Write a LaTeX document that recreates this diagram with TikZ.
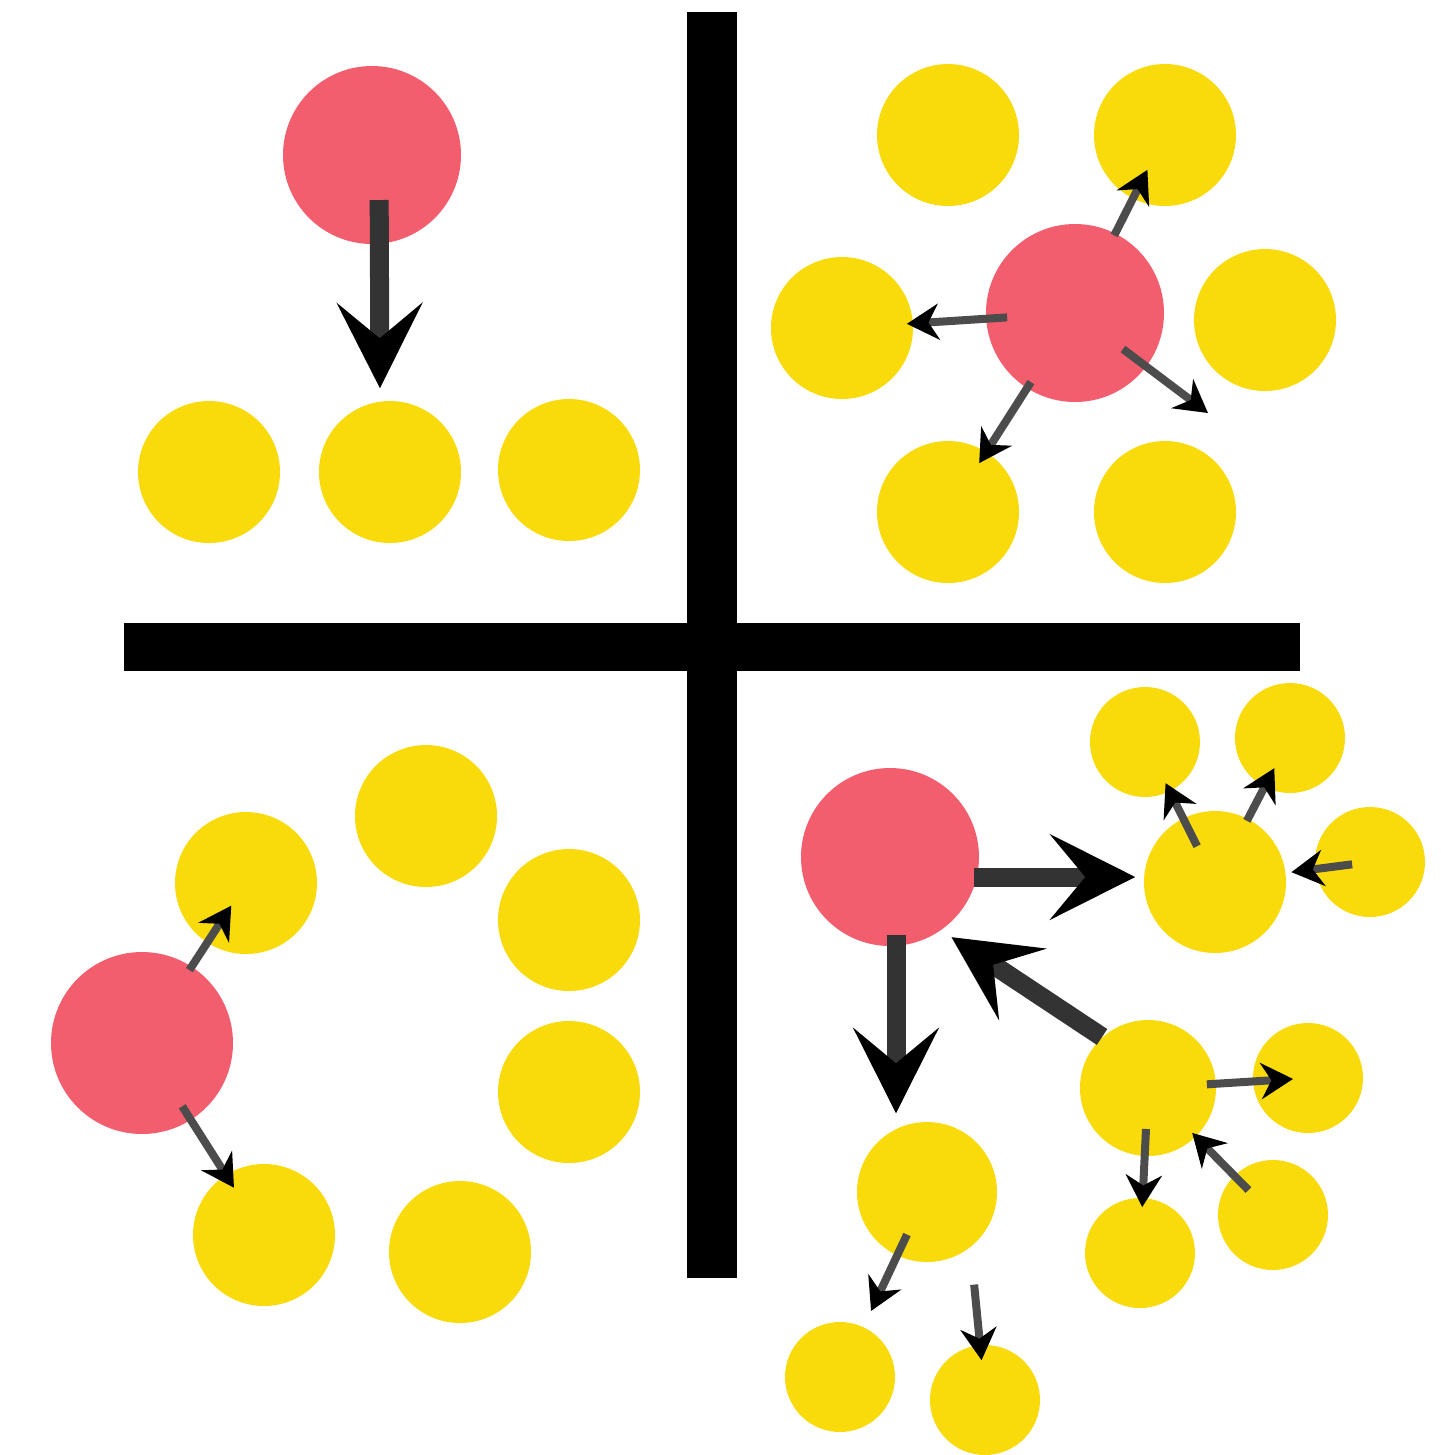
\documentclass[tikz,border=0pt]{standalone}
\usepackage{tikz}
\usetikzlibrary{arrows.meta,positioning}
\definecolor{Coral}{HTML}{F35E6E}
\definecolor{Sun}{HTML}{F9DA0B}
\tikzset{
  hub/.style={circle,fill=Coral,draw=none,minimum size=17.8mm,inner sep=0pt},
  ball/.style={circle,fill=Sun,draw=none,minimum size=14.2mm,inner sep=0pt},
  pebble/.style={ball,minimum size=11mm},
  bar/.style={line width=5mm,draw=black},
  nudge/.style={-{Stealth[length=3.2mm,width=3.6mm,color=black]},line width=.8mm,draw=black!70},
  push/.style={-{Stealth[length=8.5mm,width=8.5mm,inset=3.5mm,color=black]},line width=1.9mm,draw=black!80}
}
\begin{document}
\begin{tikzpicture}[x=0.1mm,y=-0.1mm]
  \useasboundingbox (0,0) rectangle (1441,1455);
  % cross
  \coordinate (vt) at (712,12); \coordinate (vb) at (712,1278);
  \coordinate (hl) at (124,647); \coordinate (hr) at (1300,647);
  \draw[bar] (vt)--(vb);
  \draw[bar,line width=4.8mm] (hl)--(hr);

  % top left
  \node[hub] (tlR) at (372,155) {};
  \node[ball] (tlA) at (209,472) {}; \node[ball] (tlB) at (390,472) {};
  \node[ball] (tlC) at (569,470) {};
  \draw[push,shorten <=4.5mm,shorten >=1.2mm] ([xshift=0.7mm]tlR.center)--([xshift=-1mm]tlB.north);

  % top right
  \node[hub] (trR) at (1075,313) {};
  \node[ball] (trA) at (948,135) {}; \node[ball] (trB) at (1165,135) {};
  \node[ball] (trC) at (842,328) {}; \node[ball] (trD) at (1265,320) {};
  \node[ball] (trE) at (948,512) {}; \node[ball] (trF) at (1165,512) {};
  \coordinate (trX) at (1208,413);
  \draw[nudge,shorten <=8.7mm,shorten >=3.9mm] (trR.center)--(trB.center);
  \draw[nudge,shorten <=6.8mm,shorten >=6.5mm] (trR.center)--(trC.center);
  \draw[nudge,shorten <=8.2mm,shorten >=5.8mm] (trR.center)--(trE.center);
  \draw[nudge,shorten <=6mm] (trR.center)--(trX);

  % bottom left
  \node[hub,minimum size=18.2mm] (blR) at (142,1043) {};
  \node[ball] (blA) at (246,883) {}; \node[ball] (blB) at (426,816) {};
  \node[ball] (blC) at (569,920) {}; \node[ball] (blD) at (569,1092) {};
  \node[ball] (blE) at (264,1235) {}; \node[ball] (blF) at (460,1252) {};
  \draw[nudge,shorten <=8.7mm,shorten >=2.7mm] (blR.center)--(blA.center);
  \draw[nudge,shorten <=7.5mm,shorten >=5.6mm] (blR.center)--(blE.center);

  % bottom right
  \node[hub] (brR) at (890,857) {};
  \node[ball] (brA) at (1215,882) {};
  \node[pebble] (brA1) at (1145,742) {}; \node[pebble] (brA2) at (1290,738) {};
  \node[pebble] (brA3) at (1370,862) {};
  \node[ball,minimum size=13.6mm] (brB) at (1148,1088) {};
  \node[pebble] (brB1) at (1308,1078) {}; \node[pebble] (brB2) at (1273,1215) {};
  \node[pebble] (brB3) at (1140,1253) {};
  \node[ball,minimum size=14mm] (brC) at (927,1192) {};
  \node[pebble] (brC1) at (840,1377) {}; \node[pebble] (brC2) at (985,1400) {};
  \draw[push,shorten <=-0.6mm,shorten >=0.8mm] ([yshift=0.5mm]brR.east |- brA.west)--([yshift=0.5mm]brA.west);
  \draw[push,shorten <=7.8mm,shorten >=0.8mm] ([xshift=0.6mm]brR.center)--([xshift=0.6mm]brR.center |- brC.north);
  \draw[push,shorten >=1.2mm] (brB.132)--(brR.-55);
  \draw[nudge,shorten <=4mm,shorten >=4.6mm] (brA.center)--(brA1.center);
  \draw[nudge,shorten <=6.9mm,shorten >=3.4mm] (brA.center)--(brA2.center);
  \draw[nudge,shorten <=1.8mm,shorten >=7.7mm] (brA3.center)--(brA.center);
  \draw[nudge,shorten <=5.9mm,shorten >=1.5mm] (brB.center)--(brB1.center);
  \draw[nudge,shorten <=3.5mm,shorten >=6.3mm] (brB2.center)--(brB.center);
  \draw[nudge,shorten <=4.1mm,shorten >=4.6mm] (brB.center)--(brB3.center);
  \draw[nudge,shorten <=4.7mm,shorten >=7.3mm] (brC.center)--(brC1.center);
  \draw[nudge,shorten <=2.2mm,shorten >=-1.6mm] ([xshift=4.5mm]brC.south)--([xshift=-0.5mm]brC2.north);
\end{tikzpicture}
\end{document}
